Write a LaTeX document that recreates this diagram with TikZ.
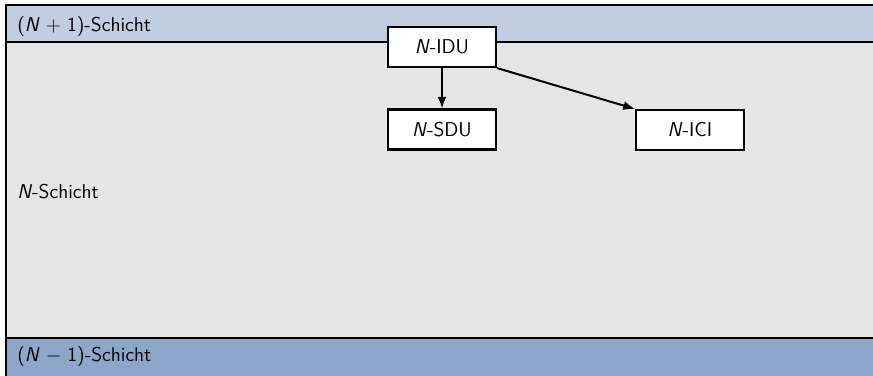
\documentclass[tikz,border=0pt]{standalone}
\usetikzlibrary{arrows.meta}
\definecolor{upperband}{HTML}{C1CDE3}
\definecolor{lowerband}{HTML}{8DA7CB}
\definecolor{layergray}{HTML}{E5E5E5}
\newcommand{\layerN}{{\itshape N\/}}
\begin{document}
\begin{tikzpicture}[x=0.6pt,y=-0.6pt,font=\sffamily\fontsize{12}{14.4}\selectfont,
  pdu/.style={draw,fill=white,line width=1.3pt,minimum width=64.8pt,minimum height=24pt,inner sep=0pt},
  layerlabel/.style={anchor=base west,inner sep=0pt},
  flow/.style={-{Latex[length=7pt,width=5.5pt]},line width=1.2pt}]
\useasboundingbox (0,0) rectangle (873,376);
% layer bands
\fill[layergray] (6,42) rectangle (890,338);
\fill[upperband] (6,5) rectangle (890,42);
\fill[lowerband] (6,338) rectangle (890,390);
\draw[line width=0.9pt] (6,376) -- (6,5) -- (890,5);
\draw[line width=0.6pt,black!55] (6,376) -- (890,376);
\draw[line width=1.2pt] (6,42) -- (890,42);
\draw[line width=1.2pt] (6,338) -- (890,338);
% layer names
\node[layerlabel] (upper) at (17,31) {(\layerN\hspace{0.3em}+\hspace{0.3em}1)-Schicht};
\node[layerlabel] (middle) at (17,198) {\layerN-Schicht};
\node[layerlabel] (lower) at (17,361) {(\layerN\hspace{0.3em}$-$\hspace{0.3em}1)-Schicht};
% data units
\node[pdu] (idu) at (442,47) {\layerN-IDU};
\node[pdu] (sdu) at (442,129.5) {\layerN-SDU};
\node[pdu] (ici) at (690,130) {\layerN-ICI};
\draw[flow] (idu) -- (sdu);
\draw[flow] (idu.south east) -- (ici.north west);
\end{tikzpicture}
\end{document}
